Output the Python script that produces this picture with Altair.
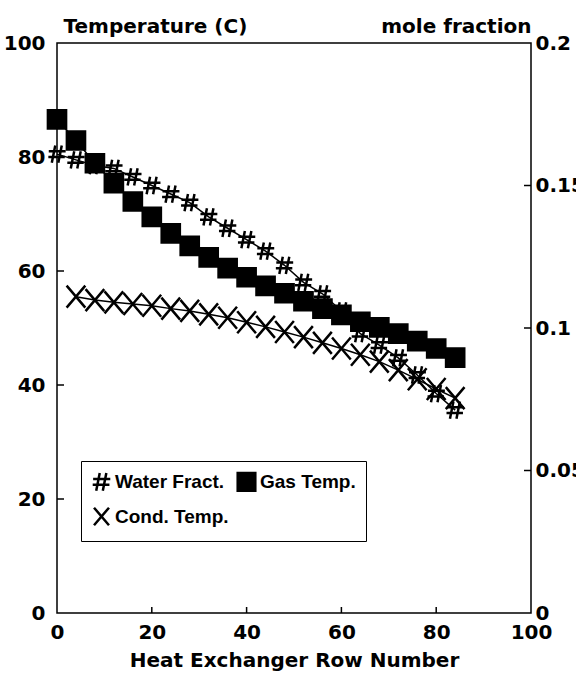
import altair as alt
import pandas as pd

# Heat exchanger rows at which each quantity was sampled
rows = [0, 4, 8, 12, 16, 20, 24, 28, 32, 36, 40, 44, 48, 52, 56, 60, 64, 68, 72, 76, 80, 84]
cond_rows = [4, 8, 12, 16, 20, 24, 28, 32, 36, 40, 44, 48, 52, 56, 60, 64, 68, 72, 76, 80, 84]

# Gas temperature (C)
gas_temp = [86.6, 82.9, 78.9, 75.4, 72.2, 69.5, 66.6, 64.4, 62.4, 60.5, 58.9,
            57.4, 56.1, 54.7, 53.4, 52.3, 51.1, 50.1, 49.0, 47.7, 46.4, 44.8]
# Water vapour mole fraction
water_fract = [0.161, 0.159, 0.157, 0.156, 0.153, 0.150, 0.147, 0.144, 0.139, 0.135, 0.131,
               0.127, 0.122, 0.116, 0.112, 0.106, 0.098, 0.094, 0.0895, 0.0835, 0.077, 0.0712]
# Condensate temperature (C)
cond_temp = [55.5, 54.9, 54.5, 54.2, 53.9, 53.4, 53.0, 52.4, 51.8, 51.0, 50.2,
             49.3, 48.4, 47.4, 46.4, 45.3, 44.1, 42.6, 41.0, 39.3, 37.7]

x_ticks = [0, 20, 40, 60, 80, 100]
temp_ticks = [0, 20, 40, 60, 80, 100]
frac_ticks = [0, 0.05, 0.1, 0.15, 0.2]

SERIES = ["Water Fract.", "Gas Temp.", "Cond. Temp."]
MARKER_SIZE = {"Water Fract.": 300, "Gas Temp.": 330, "Cond. Temp.": 484}

W, H = 474, 570
FONT = "DejaVu Sans"
FS = 20

HASH = "M-0.2,-1L-0.6,1M0.55,-1L0.15,1M-0.95,-0.33L1,-0.33M-1,0.33L0.9,0.33"
CROSS = "M-0.85,-1L0.85,1M-0.85,1L0.85,-1"

water_df = pd.DataFrame({"row": rows, "value": water_fract, "series": SERIES[0]})
gas_df = pd.DataFrame({"row": rows, "value": gas_temp, "series": SERIES[1]})
cond_df = pd.DataFrame({"row": cond_rows, "value": cond_temp, "series": SERIES[2]})

x_axis = alt.Axis(title="Heat Exchanger Row Number", values=x_ticks, format="d",
                  labelFlush=False, domain=False, ticks=False, grid=False,
                  labelPadding=9, titlePadding=8)
x_scale = alt.Scale(domain=[0, 100], nice=False, zero=False)

left_axis = alt.Axis(title="Temperature (C)", orient="left", values=temp_ticks, format="d",
                     domain=False, ticks=False, grid=False, labelPadding=12,
                     titleAngle=0, titleAlign="left", titleBaseline="alphabetic",
                     titleX=6, titleY=-11)
left_scale = alt.Scale(domain=[0, 100], nice=False)

right_axis = alt.Axis(title="mole fraction", orient="right", values=frac_ticks, format=".2~f",
                      domain=False, ticks=False, grid=False, labelPadding=4,
                      titleAngle=0, titleAlign="right", titleBaseline="alphabetic",
                      titleX=0, titleY=-11)
right_scale = alt.Scale(domain=[0, 0.2], nice=False)

legend = alt.Legend(title=None, orient="none", legendX=24, legendY=418, columns=2,
                    direction="horizontal", strokeColor="black", padding=10,
                    columnPadding=3, rowPadding=6,
                    labelFont="Liberation Sans", labelFontSize=19, labelFontWeight="bold",
                    labelColor="black", labelOffset=3, symbolSize=310,
                    symbolStrokeWidth=2.5, symbolOpacity=1, labelLimit=300)


def xenc(field="row"):
    return alt.X(f"{field}:Q", scale=x_scale, axis=x_axis)


def yleft(field="value"):
    return alt.Y(f"{field}:Q", scale=left_scale, axis=left_axis)


def yright(field="value"):
    return alt.Y(f"{field}:Q", scale=right_scale, axis=right_axis)


symbol_enc = dict(
    shape=alt.Shape("series:N", scale=alt.Scale(domain=SERIES, range=[HASH, "square", CROSS]),
                    legend=legend),
    fill=alt.Fill("series:N", scale=alt.Scale(domain=SERIES, range=["transparent", "black", "transparent"]),
                  legend=legend),
    stroke=alt.Stroke("series:N", scale=alt.Scale(domain=SERIES, range=["black", "black", "black"]),
                      legend=legend),
)


def series_layers(df, yenc):
    name = df["series"].iloc[0]
    line = alt.Chart(df).mark_line(color="black", strokeWidth=1.5).encode(x=xenc(), y=yenc())
    pts = alt.Chart(df).mark_point(strokeWidth=2.5, opacity=1, size=MARKER_SIZE[name]).encode(
        x=xenc(), y=yenc(), **symbol_enc)
    return [line, pts]


# inward-pointing tick marks on the frame
left_ticks = alt.Chart(pd.DataFrame({"t": temp_ticks[1:-1]})).mark_rule(
    color="black", strokeWidth=1.5).encode(y=yleft("t"), x=alt.value(0), x2=alt.value(7))
bottom_ticks = alt.Chart(pd.DataFrame({"t": x_ticks[1:-1]})).mark_rule(
    color="black", strokeWidth=1.5).encode(x=xenc("t"), y=alt.value(H), y2=alt.value(H - 6))
right_ticks = alt.Chart(pd.DataFrame({"t": frac_ticks[1:-1]})).mark_rule(
    color="black", strokeWidth=1.5).encode(y=yright("t"), x=alt.value(W - 7), x2=alt.value(W))

right_group = alt.layer(*series_layers(water_df, yright), right_ticks)
left_group = alt.layer(*series_layers(gas_df, yleft), *series_layers(cond_df, yleft),
                       left_ticks, bottom_ticks)

chart = (
    alt.layer(right_group, left_group)
    .resolve_scale(y="independent")
    .properties(width=W, height=H, background="white",
                autosize=alt.AutoSizeParams(type="none"),
                padding={"left": 57, "top": 43, "right": 45, "bottom": 72})
    .configure_view(stroke="black", strokeWidth=1.5)
    .configure_axis(labelFont=FONT, labelFontSize=FS, labelFontWeight="bold", labelColor="black",
                    titleFont=FONT, titleFontSize=FS, titleFontWeight="bold", titleColor="black")
)

chart.save("out.html", embed_options={"renderer": "svg", "actions": False})
